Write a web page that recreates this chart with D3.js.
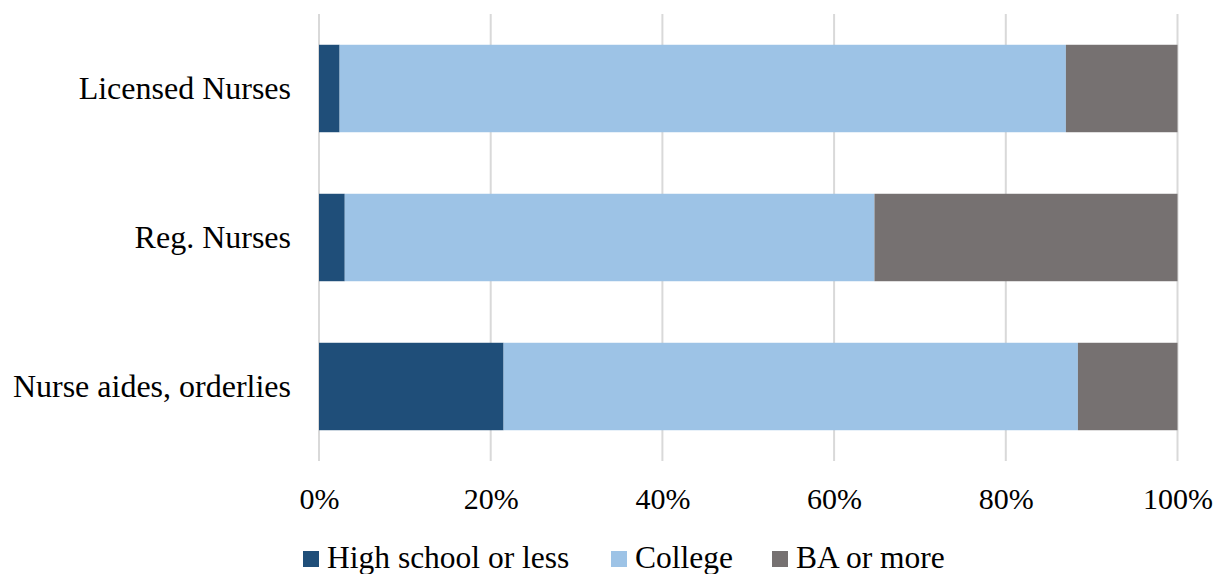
<!DOCTYPE html>
<html>
<head>
<meta charset="utf-8">
<script src="https://cdn.jsdelivr.net/npm/d3@7"></script>
<style>
  body { margin: 0; background: #fff; }
  text { font-family: "Liberation Serif", "Times New Roman", serif; fill: #000; }
</style>
</head>
<body>
<script>
var categories = ["Licensed Nurses", "Reg. Nurses", "Nurse aides, orderlies"];
var seriesNames = ["High school or less", "College", "BA or more"];
var highSchool = [2.4, 3.0, 21.5];
var college = [84.6, 61.7, 66.9];
var baOrMore = [13.0, 35.3, 11.6];
var tickValues = [0, 20, 40, 60, 80, 100];
var colors = ["#1F4E79", "#9DC3E6", "#767171"];

var width = 1214, height = 574;
var plot = {left: 319, right: 1177.5, top: 14, bottom: 461};

var svg = d3.select("body").append("svg")
    .attr("width", width)
    .attr("height", height);

var xScale = d3.scaleLinear()
    .domain([0, 100])
    .range([plot.left, plot.right]);

var yScale = d3.scaleBand()
    .domain(categories)
    .range([plot.top, plot.bottom])
    .paddingInner(0.413)
    .paddingOuter(0.2065);

// gridlines
svg.append("g")
    .selectAll("line")
    .data(tickValues)
    .enter().append("line")
        .attr("x1", d => xScale(d))
        .attr("x2", d => xScale(d))
        .attr("y1", plot.top)
        .attr("y2", plot.bottom)
        .attr("stroke", "#D9D9D9")
        .attr("stroke-width", 2);

var rows = categories.map(function(c, i) {
    return {category: c, hs: highSchool[i], col: college[i], ba: baOrMore[i]};
});
var stack = d3.stack().keys(["hs", "col", "ba"])(rows);

svg.append("g")
    .selectAll("g")
    .data(stack)
    .enter().append("g")
        .attr("fill", (d, i) => colors[i])
    .selectAll("rect")
    .data(d => d)
    .enter().append("rect")
        .attr("x", d => xScale(d[0]))
        .attr("width", d => xScale(d[1]) - xScale(d[0]))
        .attr("y", d => yScale(d.data.category))
        .attr("height", yScale.bandwidth());

// x axis labels
var xAxis = svg.append("g")
    .attr("transform", "translate(0," + plot.bottom + ")")
    .call(d3.axisBottom(xScale).tickValues(tickValues).tickSize(0).tickPadding(27)
        .tickFormat(d => d + "%"));
xAxis.select(".domain").remove();
xAxis.selectAll("text")
    .attr("font-size", "30px")
    .attr("font-family", "Liberation Serif");

// y axis labels
var yAxis = svg.append("g")
    .attr("transform", "translate(" + plot.left + ",0)")
    .call(d3.axisLeft(yScale).tickSize(0).tickPadding(28));
yAxis.select(".domain").remove();
yAxis.selectAll("text")
    .attr("font-size", "32px")
    .attr("font-family", "Liberation Serif");

// legend
var legendX = [303, 611, 772];
var legend = svg.append("g")
    .selectAll("g")
    .data(seriesNames)
    .enter().append("g")
        .attr("transform", (d, i) => "translate(" + legendX[i] + ",551)");
legend.append("rect")
    .attr("width", 16)
    .attr("height", 16)
    .attr("fill", (d, i) => colors[i]);
legend.append("text")
    .text(d => d)
    .attr("x", 24)
    .attr("y", 17)
    .attr("font-size", "31.5px");
</script>
</body>
</html>
